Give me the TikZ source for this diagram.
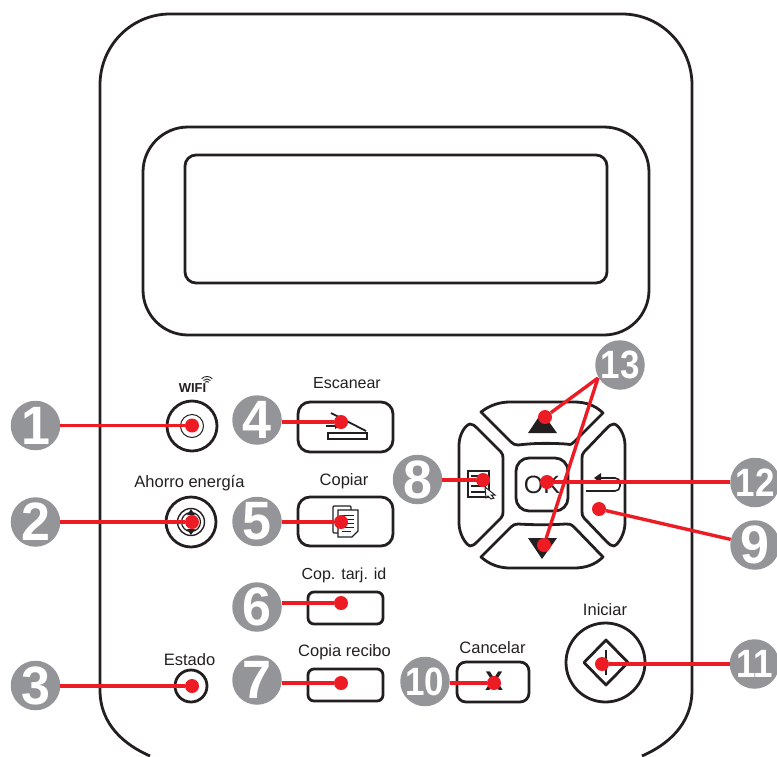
\documentclass[tikz,border=0pt]{standalone}
\usepackage{fontspec}
\setmainfont{Liberation Sans}
\definecolor{pk}{HTML}{231F20}
\definecolor{pr}{HTML}{ED1C24}
\definecolor{pg}{HTML}{939598}
\newcommand{\bigdigit}[1]{\scalebox{1.04}[1.08]{#1}}
\newcommand{\twodigit}[1]{\scalebox{.92}[1.04]{#1}}
\tikzset{
  line/.style={draw=pk,line width=2.8pt,line join=round},
  thin line/.style={draw=pk,line width=1.3pt},
  btn/.style={line,rectangle,rounded corners=12pt,inner sep=0pt},
  rbtn/.style={line,circle,inner sep=0pt},
  badge/.style={circle,fill=pg,text=white,inner sep=0pt,minimum size=49.5pt,font=\fontsize{50}{50}\selectfont\bfseries},
  badgeb/.style={badge,font=\fontsize{38}{38}\selectfont\bfseries},
  dot/.style={circle,fill=pr,inner sep=0pt,minimum size=14pt},
  lead/.style={draw=pr,line width=3.4pt},
  lab/.style={text=pk,inner sep=0pt,font=\fontsize{16.5}{17}\selectfont},
}
\begin{document}
\begin{tikzpicture}[x=1pt,y=-1pt]
\useasboundingbox (0,0) rectangle (777,756);
% panel
\draw[line] (150,756) .. controls (125,745) and (100,725) .. (100,690) -- (100,85) .. controls (100,46) and (131,14) .. (170,14) -- (622,14) .. controls (661,14) and (692,46) .. (692,85) -- (692,690) .. controls (692,725) and (667,745) .. (642,756);
% screen
\draw[line,rounded corners=45pt] (143,127) rectangle (649,335);
\draw[line,rounded corners=11pt] (185,155) rectangle (607,283);
% left column
\node[rbtn,minimum size=50pt] (p1) at (192,426) {};
\node[draw=pk,line width=1pt,circle,minimum size=23pt,inner sep=0pt] at (p1) {};
\node[rbtn,minimum size=50pt] (p2) at (191,522) {};
\node[draw=pk,line width=1.4pt,circle,minimum size=27pt,inner sep=0pt] at (p2) {};
\node[draw=pk,line width=1.2pt,circle,minimum size=19pt,inner sep=0pt] at (p2) {};
\fill[pk] (191,509) -- (195,515) -- (187,515) -- cycle;
\fill[pk] (191,535) -- (195,529) -- (187,529) -- cycle;
\node[rbtn,minimum size=32pt] (p3) at (191,686) {};
\node[lab,font=\fontsize{13}{13}\selectfont\bfseries] at (192.5,388.5) {WIFI};
\draw[draw=pk,line width=.9pt] (207,384) ++(-135:2.5) arc (-135:-45:2.5);
\draw[draw=pk,line width=.9pt] (207,384) ++(-135:5) arc (-135:-45:5);
\draw[draw=pk,line width=.9pt] (207,384) ++(-135:7.5) arc (-135:-45:7.5);
\node[lab] at (189.5,483) {Ahorro energía};
\node[lab] at (189.5,660) {Estado};
% middle column
\node[btn,minimum width=95pt,minimum height=50pt] (p4) at (345.5,427) {};
\node[btn,minimum width=95pt,minimum height=49pt] (p5) at (345.5,521.5) {};
\node[btn,rounded corners=6pt,minimum width=75pt,minimum height=32pt] (p6) at (345.5,608) {};
\node[btn,rounded corners=6pt,minimum width=75pt,minimum height=32pt] (p7) at (345.5,685) {};
\node[lab,font=\fontsize{16}{17}\selectfont] at (347,383) {Escanear};
\node[lab] at (344,481) {Copiar};
\node[lab,font=\fontsize{16}{17}\selectfont] at (344,575) {Cop. tarj. id};
\node[lab] at (344.5,652) {Copia recibo};
% scanner icon
\draw[thin line,line width=1.6pt] (328,433) rectangle (367,439);
\draw[thin line,line width=1.8pt] (331,413) -- (366,431);
\draw[thin line] (326,426) -- (336,426);
\fill[pk] (340,426) -- (335,423) -- (335,429) -- cycle;
% copy icon
\draw[thin line,fill=white,rounded corners=1pt] (333,506) rectangle (351,533);
\draw[thin line,fill=white] (338,510) -- (358,510) -- (358,531) -- (352,537) -- (338,537) -- cycle;
\draw[draw=pk,line width=1pt] (342,515) -- (354,515) (342,519) -- (354,519) (342,523) -- (354,523) (342,527) -- (354,527) (342,531) -- (351,531);
% cancel
\node[btn,rounded corners=9pt,minimum width=72pt,minimum height=40pt] (p10) at (493,682) {};
\node[lab,font=\fontsize{27}{27}\selectfont\bfseries] at (494,681) {X};
\node[lab] at (492.5,648) {Cancelar};
% start
\node[rbtn,minimum size=79pt] (p11) at (605.5,662.5) {};
\draw[line] (606,640) -- (628,662.5) -- (606,685) -- (584,662.5) -- cycle;
\draw[thin line,line width=1.6pt] (606,650) -- (606,675);
\node[lab] at (605,610) {Iniciar};
% d-pad
\draw[line] (481,412) .. controls (490,405) and (500,402) .. (510,402) -- (574,402) .. controls (585,402) and (595,405) .. (603,413) -- (574,442) .. controls (571,445) and (569,445) .. (566,444) .. controls (550,443) and (535,443) .. (518,445) .. controls (515,445) and (513,444) .. (511,442) -- cycle;
\draw[line] (481,557) .. controls (490,565) and (500,568) .. (510,568) -- (574,568) .. controls (585,568) and (595,565) .. (603,557) -- (574,527) .. controls (571,524) and (569,524) .. (566,524) .. controls (550,525) and (535,525) .. (518,524) .. controls (515,524) and (513,525) .. (511,527) -- cycle;
\draw[line] (470,424) .. controls (465,425) and (459,435) .. (459,445) -- (459,523) .. controls (459,533) and (465,544) .. (470,546) .. controls (473,546) and (475,544) .. (477,542) -- (501,518) .. controls (503,516) and (503,514) .. (503,511) -- (503,459) .. controls (503,456) and (503,454) .. (501,452) -- (477,428) .. controls (475,426) and (473,424) .. (470,424) -- cycle;
\draw[line] (614,424) .. controls (619,425) and (625,435) .. (625,445) -- (625,523) .. controls (625,533) and (619,544) .. (614,546) .. controls (611,546) and (609,544) .. (607,542) -- (584,518) .. controls (582,516) and (582,514) .. (582,511) -- (582,459) .. controls (582,456) and (582,454) .. (584,452) -- (607,428) .. controls (609,426) and (611,424) .. (614,424) -- cycle;
\node[btn,rounded corners=13pt,minimum width=52pt,minimum height=53pt] (ok) at (542,484.5) {};
\node[lab,font=\fontsize{25}{25}\selectfont] at (542,485) {OK};
\fill[pk] (542,412) -- (557,433) -- (528,433) -- cycle;
\fill[pk] (542,559) -- (557,538) -- (528,538) -- cycle;
% menu icon
\draw[thin line,fill=white] (468,471) rectangle (489,497);
\draw[draw=pk,line width=1.6pt] (471,476) -- (486,476) (471,481) -- (486,481) (471,486) -- (486,486) (471,492) -- (486,492);
\draw[thin line,line width=1pt,fill=white] (485,487) -- (495,495) -- (491,495) -- (494,498) -- (491,499) -- (488,496) -- (486,498) -- cycle;
% return icon
\draw[thin line,line width=1.6pt] (586,491) -- (615,491) .. controls (618,491) and (620,489) .. (620,486) -- (620,483) .. controls (620,480) and (618,478) .. (615,478) -- (600,478);
\fill[pk] (594,478) -- (601,473) -- (601,483) -- cycle;
% badges
\node[badge] (b1) at (35.5,425.5) {\bigdigit{1}};
\node[badge] (b2) at (35.5,522) {\bigdigit{2}};
\node[badge] (b3) at (35.5,685.5) {\bigdigit{3}};
\node[badge] (b4) at (257,420) {\bigdigit{4}};
\node[badge] (b5) at (257,521.5) {\bigdigit{5}};
\node[badge] (b6) at (257,607) {\bigdigit{6}};
\node[badge] (b7) at (257,680) {\bigdigit{7}};
\node[badge] (b8) at (417.5,479.5) {\bigdigit{8}};
\node[badge] (b9) at (755,545) {\bigdigit{9}};
\node[badgeb] (b10) at (425,681.5) {\twodigit{10}};
\node[badgeb] (b11) at (754.5,664) {\twodigit{11}};
\node[badgeb] (b12) at (755,482.5) {\twodigit{12}};
\node[badgeb] (b13) at (620,365) {\twodigit{13}};
% dots
\node[dot] (d1) at (192,425.5) {};
\node[dot] (d2) at (192,522) {};
\node[dot] (d3) at (192,686) {};
\node[dot] (d4) at (341,422) {};
\node[dot] (d5) at (341,522) {};
\node[dot] (d6) at (341,603) {};
\node[dot] (d7) at (341,683) {};
\node[dot] (d8) at (483,480) {};
\node[dot] (d9) at (599,509) {};
\node[dot] (d10) at (494,683) {};
\node[dot] (d11) at (602,664) {};
\node[dot] (d12) at (547,482) {};
\node[dot] (d13a) at (545,417) {};
\node[dot] (d13b) at (544,545) {};
\coordinate (c13) at (598,378);
% leaders
\draw[lead] (b1.east |- d1) -- (d1);
\draw[lead] (b2.east |- d2) -- (d2);
\draw[lead] (b3.east |- d3) -- (d3);
\draw[lead] (b4.east |- d4) -- (d4);
\draw[lead] (b5.east |- d5) -- (d5);
\draw[lead] (b6.east |- d6) -- (d6);
\draw[lead] (b7.east |- d7) -- (d7);
\draw[lead] (b8.east |- d8) -- (d8);
\draw[lead] (b9) -- (d9);
\draw[lead] (b10.east |- d10) -- (d10);
\draw[lead] (b11.west |- d11) -- (d11);
\draw[lead] (b12.west |- d12) -- (d12);
\draw[lead] (c13) -- (d13a);
\draw[lead] (c13) -- (d13b);
\end{tikzpicture}
\end{document}
